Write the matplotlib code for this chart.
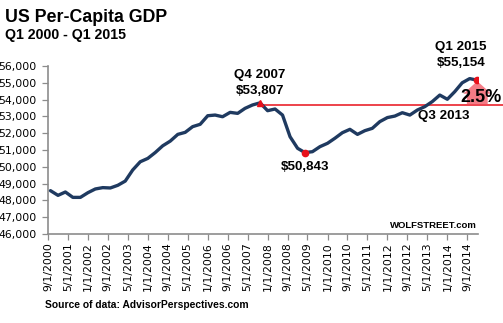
import matplotlib
matplotlib.use('Agg')
import matplotlib.pyplot as plt
import matplotlib.dates as mdates
import numpy as np
import pandas as pd

gdp = [48580,
       48300, 48500, 48180, 48180,
       48460, 48680, 48760, 48740,
       48900, 49150, 49810, 50300,
       50500, 50850, 51250, 51530,
       51930, 52050, 52390, 52530,
       53040, 53080, 52980, 53240,
       53180, 53480, 53680, 53807,
       53340, 53440, 53080, 51790,
       51100, 50843, 50900, 51200,
       51400, 51700, 52030, 52230,
       51930, 52150, 52290, 52690,
       52930, 53020, 53220, 53080,
       53380, 53580, 53880, 54270,
       54020, 54470, 55000, 55250,
       55154]
dates = pd.date_range('2000-10-01', periods=len(gdp), freq='QS')
tick_dates = pd.date_range('2000-09-01', '2014-09-01', freq='8MS')
y_ticks = np.arange(46000, 56001, 1000)

peak_i = 28      # Q4 2007
trough_i = 34    # Q2 2009
last_i = len(gdp) - 1
ref_level = 53650

navy = '#1f3a60'
red = '#e8101a'
narrow = ['Liberation Sans Narrow', 'Liberation Sans', 'DejaVu Sans']

fig = plt.figure(figsize=(5.03, 3.23), dpi=100)
ax = fig.add_axes([48/503, 89/323, 430/503, 168/323])

ax.plot(dates, gdp, color=navy, lw=2.4, solid_capstyle='round', zorder=3)
ax.plot(dates[peak_i], gdp[peak_i], marker='^', color=red, ms=5, zorder=4)
ax.plot(dates[trough_i], gdp[trough_i], marker='o', color=red, ms=4.5, zorder=4)
ax.plot(dates[last_i], gdp[last_i], marker='o', color=red, ms=4.5, zorder=4)

ax.set_ylim(46000, 56000)
ax.set_xlim(pd.Timestamp('2000-09-01'), pd.Timestamp('2015-01-10'))
ax.set_yticks(y_ticks)
ax.set_yticklabels(['{:,}'.format(v) for v in y_ticks])
ax.set_xticks(tick_dates)
ax.set_xticklabels(['{}/1/{}'.format(d.month, d.year) for d in tick_dates],
                   rotation=90)
ax.tick_params(labelsize=7.8, colors='#000000', length=4, width=0.9,
               color='#8c8c8c')
ax.tick_params(axis='y', pad=4)
ax.tick_params(axis='x', pad=2)
for s in ['top', 'right']:
    ax.spines[s].set_visible(False)
for s in ['left', 'bottom']:
    ax.spines[s].set_color('#8c8c8c')
    ax.spines[s].set_linewidth(1.2)

# reference line from the 2007 peak to the right edge
x0 = mdates.date2num(dates[peak_i])
xa, xb = ax.get_xlim()
ax.axhline(ref_level, xmin=(x0 - xa) / (xb - xa), xmax=1.058,
           color=red, lw=1.1, clip_on=False, zorder=2)

# arrow showing the gain
ax.annotate('', xy=(dates[last_i], gdp[last_i] - 60),
            xytext=(dates[last_i], ref_level),
            arrowprops=dict(arrowstyle='simple,head_width=1.68,head_length=0.75,tail_width=1.25',
                            fc='#f04a58', ec='none', alpha=0.72,
                            mutation_scale=12, shrinkA=0, shrinkB=0),
            zorder=2, annotation_clip=False)

tf = dict(fontsize=9.6, fontweight='bold', family=narrow)
ax.text(dates[peak_i], gdp[peak_i] + 350, 'Q4 2007\n$53,807', ha='center',
        va='bottom', linespacing=1.45, **tf)
ax.text(dates[trough_i], gdp[trough_i] - 500, '$50,843', ha='center',
        va='top', **tf)
ax.text(dates[last_i] - pd.Timedelta(days=200), gdp[last_i] + 650, 'Q1 2015\n$55,154',
        ha='center', va='bottom', linespacing=1.45, **tf)
ax.text(dates[52] + pd.Timedelta(days=45), ref_level - 260, 'Q3 2013',
        ha='center', va='top', **tf)
fig.text(502/503, 1 - 98/323, '2.5%', ha='right', va='center',
         fontsize=13, fontweight='bold', family=narrow, zorder=5)

fig.text(5/503, 1 - 18/323, 'US Per-Capita GDP', fontsize=12.8,
         fontweight='bold', va='center', ha='left', family=narrow)
fig.text(5/503, 1 - 35/323, 'Q1 2000 - Q1 2015', fontsize=10.2,
         fontweight='bold', va='center', ha='left', family=narrow)
fig.text(477/503, 1 - 225/323, 'WOLFSTREET.com', fontsize=6.8,
         fontweight='bold', va='center', ha='right', family=narrow)
fig.text(45/503, 1 - 305/323, 'Source of data: AdvisorPerspectives.com',
         fontsize=7.4, fontweight='bold', va='center', ha='left', family=narrow)

fig.savefig('out.png', dpi=100)
